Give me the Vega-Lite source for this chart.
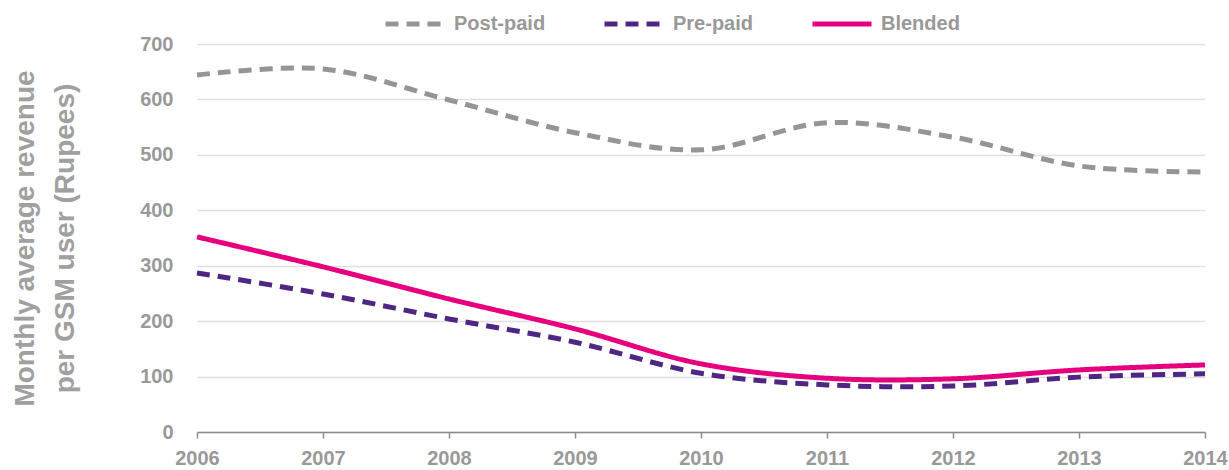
{
  "$schema": "https://vega.github.io/schema/vega-lite/v6.json",
  "width": 1008,
  "height": 388,
  "autosize": {"type": "none"},
  "padding": {"left": 197, "top": 44, "right": 24, "bottom": 38},
  "background": "white",
  "config": {
    "view": {"stroke": null},
    "font": "Liberation Sans",
    "axis": {"labelFont": "Liberation Sans", "titleFont": "Liberation Sans"},
    "legend": {"labelFont": "Liberation Sans"}
  },
  "data": {
    "values": [
      {"year": 2006, "series": "Post-paid", "value": 644},
      {"year": 2007, "series": "Post-paid", "value": 655},
      {"year": 2008, "series": "Post-paid", "value": 599},
      {"year": 2009, "series": "Post-paid", "value": 540},
      {"year": 2010, "series": "Post-paid", "value": 509},
      {"year": 2011, "series": "Post-paid", "value": 558},
      {"year": 2012, "series": "Post-paid", "value": 532},
      {"year": 2013, "series": "Post-paid", "value": 480},
      {"year": 2014, "series": "Post-paid", "value": 469},
      {"year": 2006, "series": "Pre-paid", "value": 287},
      {"year": 2007, "series": "Pre-paid", "value": 249},
      {"year": 2008, "series": "Pre-paid", "value": 204},
      {"year": 2009, "series": "Pre-paid", "value": 162},
      {"year": 2010, "series": "Pre-paid", "value": 106},
      {"year": 2011, "series": "Pre-paid", "value": 85},
      {"year": 2012, "series": "Pre-paid", "value": 83},
      {"year": 2013, "series": "Pre-paid", "value": 99},
      {"year": 2014, "series": "Pre-paid", "value": 105},
      {"year": 2006, "series": "Blended", "value": 352},
      {"year": 2007, "series": "Blended", "value": 298},
      {"year": 2008, "series": "Blended", "value": 240},
      {"year": 2009, "series": "Blended", "value": 186},
      {"year": 2010, "series": "Blended", "value": 123},
      {"year": 2011, "series": "Blended", "value": 97},
      {"year": 2012, "series": "Blended", "value": 96},
      {"year": 2013, "series": "Blended", "value": 112},
      {"year": 2014, "series": "Blended", "value": 121}
    ]
  },
  "mark": {"type": "line", "interpolate": "catmull-rom", "strokeWidth": 5, "strokeCap": "butt"},
  "encoding": {
    "x": {
      "field": "year",
      "type": "quantitative",
      "scale": {"domain": [2006, 2014], "nice": false, "zero": false},
      "axis": {
        "values": [2006, 2007, 2008, 2009, 2010, 2011, 2012, 2013, 2014],
        "format": "d",
        "title": null,
        "grid": false,
        "domainColor": "#8c8c8c",
        "domainWidth": 1.5,
        "tickColor": "#8c8c8c",
        "tickWidth": 1.5,
        "tickSize": 6,
        "labelFontSize": 20,
        "labelFontWeight": "bold",
        "labelColor": "#999999",
        "labelPadding": 10,
        "labelFlush": false,
        "labelOverlap": false
      }
    },
    "y": {
      "field": "value",
      "type": "quantitative",
      "scale": {"domain": [0, 700], "nice": false},
      "axis": {
        "values": [0, 100, 200, 300, 400, 500, 600, 700],
        "title": ["Monthly average revenue", "per GSM user (Rupees)"],
        "titleFontSize": 28,
        "titleFontWeight": "bold",
        "titleColor": "#a0a0a0",
        "titleLineHeight": 40,
        "titlePadding": 60,
        "domain": false,
        "ticks": false,
        "gridColor": "#e0e0e0",
        "gridWidth": 1.5,
        "labelFontSize": 20,
        "labelFontWeight": "bold",
        "labelColor": "#999999",
        "labelPadding": 24
      }
    },
    "color": {
      "field": "series",
      "type": "nominal",
      "scale": {"domain": ["Post-paid", "Pre-paid", "Blended"], "range": ["#939598", "#4f2683", "#e6007e"]},
      "legend": {
        "title": null,
        "orient": "none",
        "direction": "horizontal",
        "legendX": 186,
        "legendY": -52,
        "symbolType": "stroke",
        "symbolSize": 3481,
        "symbolStrokeWidth": 5,
        "labelFontSize": 20,
        "labelFontWeight": "bold",
        "labelColor": "#999999",
        "labelOffset": 7,
        "columnPadding": 48
      }
    },
    "strokeDash": {
      "field": "series",
      "type": "nominal",
      "scale": {"domain": ["Post-paid", "Pre-paid", "Blended"], "range": [[13, 8], [13, 8], [1, 0]]},
      "legend": {
        "title": null,
        "orient": "none",
        "direction": "horizontal",
        "legendX": 186,
        "legendY": -52,
        "symbolType": "stroke",
        "symbolSize": 3481,
        "symbolStrokeWidth": 5,
        "labelFontSize": 20,
        "labelFontWeight": "bold",
        "labelColor": "#999999",
        "labelOffset": 7,
        "columnPadding": 48
      }
    }
  }
}
